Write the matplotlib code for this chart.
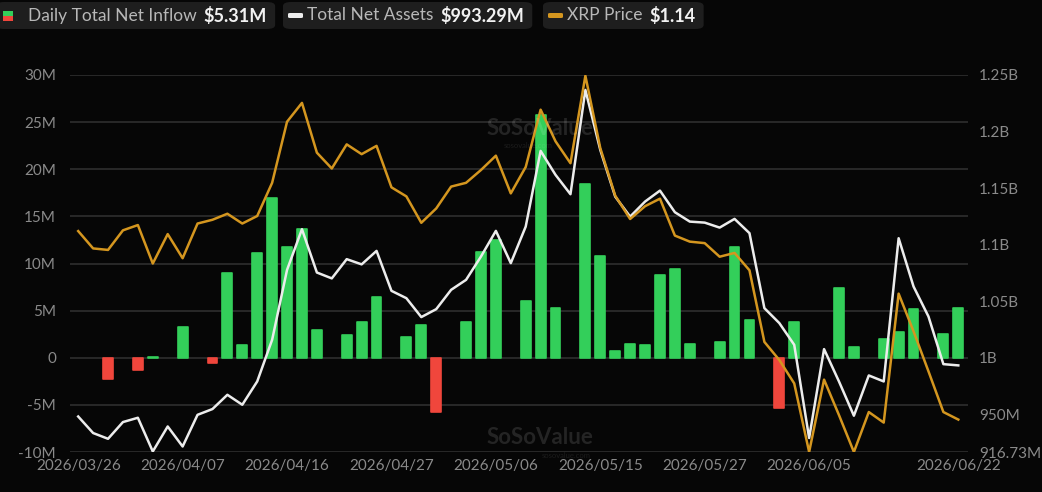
import matplotlib
matplotlib.use("Agg")
import matplotlib.pyplot as plt
from matplotlib.patches import FancyBboxPatch, Rectangle

# ---------------- data ----------------
dates = ["2026/03/26", "2026/03/27", "2026/03/30", "2026/03/31", "2026/04/01", "2026/04/02",
         "2026/04/06", "2026/04/07", "2026/04/08", "2026/04/09", "2026/04/10", "2026/04/13",
         "2026/04/14", "2026/04/15", "2026/04/16", "2026/04/17", "2026/04/20", "2026/04/21",
         "2026/04/22", "2026/04/23", "2026/04/24", "2026/04/27", "2026/04/28", "2026/04/29",
         "2026/04/30", "2026/05/01", "2026/05/04", "2026/05/05", "2026/05/06", "2026/05/07",
         "2026/05/08", "2026/05/11", "2026/05/12", "2026/05/13", "2026/05/14", "2026/05/15",
         "2026/05/18", "2026/05/19", "2026/05/20", "2026/05/21", "2026/05/22", "2026/05/26",
         "2026/05/27", "2026/05/28", "2026/05/29", "2026/06/01", "2026/06/02", "2026/06/03",
         "2026/06/04", "2026/06/05", "2026/06/08", "2026/06/09", "2026/06/10", "2026/06/11",
         "2026/06/12", "2026/06/15", "2026/06/16", "2026/06/17", "2026/06/18", "2026/06/22"]

# Daily total net inflow (million USD)
inflow_m = [0, 0, -2.3, 0, -1.35, 0.05, 0, 3.25, 0, -0.6,
            9.0, 1.4, 11.1, 17.0, 11.8, 13.7, 2.9, 0, 2.4, 3.75,
            6.4, 0, 2.2, 3.5, -5.75, 0, 3.75, 11.2, 12.5, 0,
            6.0, 25.8, 5.3, 0, 18.4, 10.8, 0.67, 1.45, 1.4, 8.8,
            9.4, 1.5, 0, 1.7, 11.8, 4.05, 0, -5.3, 3.8, 0,
            0, 7.4, 1.1, 0, 1.95, 2.7, 5.2, 0, 2.5, 5.31]

# Total net assets (million USD)
net_assets_m = [948.1, 933.5, 928.4, 943.2, 947.0, 917.2, 939.3, 921.6, 949.6, 954.7,
                967.3, 958.5, 979.1, 1015.9, 1077.7, 1113.7, 1075.4, 1070.2, 1087.2, 1082.6,
                1094.5, 1059.2, 1052.7, 1036.0, 1043.0, 1060.1, 1068.9, 1089.5, 1112.2, 1083.7,
                1116.0, 1182.9, 1161.7, 1144.6, 1236.8, 1183.7, 1142.5, 1124.8, 1138.1, 1147.8,
                1128.7, 1120.4, 1119.5, 1115.1, 1122.8, 1110.2, 1043.9, 1030.7, 1011.5, 929.1,
                1007.7, 979.1, 948.8, 984.4, 979.1, 1105.7, 1063.0, 1036.5, 994.4, 993.29]

# XRP price (USD)
xrp_price = [1.393, 1.370, 1.368, 1.394, 1.401, 1.350, 1.389, 1.357, 1.403, 1.408,
             1.416, 1.403, 1.413, 1.457, 1.538, 1.563, 1.497, 1.476, 1.508, 1.495,
             1.506, 1.451, 1.439, 1.404, 1.423, 1.452, 1.457, 1.474, 1.493, 1.443,
             1.478, 1.554, 1.512, 1.483, 1.599, 1.503, 1.440, 1.409, 1.426, 1.436,
             1.387, 1.379, 1.377, 1.359, 1.364, 1.341, 1.246, 1.222, 1.191, 1.100,
             1.196, 1.149, 1.100, 1.153, 1.139, 1.310, 1.260, 1.207, 1.153, 1.143]

x_tick_dates = ["2026/03/26", "2026/04/07", "2026/04/16", "2026/04/27", "2026/05/06",
                "2026/05/15", "2026/05/27", "2026/06/05", "2026/06/22"]
left_ticks = [-10, -5, 0, 5, 10, 15, 20, 25, 30]
left_tick_labels = ["-10M", "-5M", "0", "5M", "10M", "15M", "20M", "25M", "30M"]
right_ticks = [916.73, 950, 1000, 1050, 1100, 1150, 1200, 1250]
right_tick_labels = ["916.73M", "950M", "1B", "1.05B", "1.1B", "1.15B", "1.2B", "1.25B"]

legend_labels = ["Daily Total Net Inflow", "Total Net Assets", "XRP Price"]
legend_values = ["$5.31M", "$993.29M", "$1.14"]

# ---------------- style ----------------
BG = "#060606"
GRID = "#2e2e2e"
TICK = "#8a8a8a"
GREEN = "#33cf5a"
RED = "#f0463c"
ORANGE = "#d4961f"
WHITE = "#ececec"
BOX = "#1e1e1e"
FONT = "Lato"

W, H = 1042, 492
fig = plt.figure(figsize=(W / 100, H / 100), dpi=100, facecolor=BG)
ax = fig.add_axes([70 / W, (H - 452) / H, (968 - 70) / W, (452 - 75) / H])
ax.set_facecolor(BG)

xs = list(range(len(dates)))
colors = [GREEN if v >= 0 else RED for v in inflow_m]
widths = [1.2 if v != 0 else 0.0 for v in inflow_m]
ax.bar(xs, inflow_m, width=0.66, color=colors, edgecolor=colors, linewidth=widths,
       joinstyle="round", zorder=2)
ax.set_ylim(-10, 30)
ax.set_xlim(-0.55, len(dates) - 1 + 0.65)
ax.set_yticks(left_ticks)
ax.set_yticklabels(left_tick_labels)
ax.grid(axis="y", color=GRID, linewidth=1.2, zorder=0)
ax.set_axisbelow(True)
for s in ax.spines.values():
    s.set_visible(False)
tick_pos = [dates.index(d) for d in x_tick_dates]
ax.set_xticks(tick_pos)
ax.set_xticklabels(x_tick_dates)
ax.tick_params(axis="x", length=0, pad=5, labelsize=11, labelcolor=TICK)
ax.tick_params(axis="y", length=0, pad=10, labelsize=11, labelcolor=TICK)
for lab in ax.get_xticklabels() + ax.get_yticklabels():
    lab.set_fontfamily(FONT)

ax2 = ax.twinx()
ax2.plot(xs, net_assets_m, color=WHITE, linewidth=1.8, zorder=3)
ax2.set_ylim(916.73, 1250)
ax2.set_yticks(right_ticks)
ax2.set_yticklabels(right_tick_labels)
ax2.tick_params(axis="y", length=0, pad=8, labelsize=11, labelcolor=TICK)
for lab in ax2.get_yticklabels():
    lab.set_fontfamily(FONT)
for s in ax2.spines.values():
    s.set_visible(False)

ax3 = ax.twinx()
ax3.plot(xs, xrp_price, color=ORANGE, linewidth=1.8, zorder=4)
ax3.set_ylim(1.10, 1.60)
ax3.axis("off")

# watermarks
for (wx, wy, sx, sy) in [(540, 128, 528, 146), (540, 437, 566, 455)]:
    fig.text(wx / W, 1 - wy / H, "SoSoValue", fontsize=16, fontweight="bold",
             color="#ffffff", alpha=0.12, ha="center", va="center", family=FONT)
    fig.text(sx / W, 1 - sy / H, "sosovalue.com", fontsize=5.5,
             color="#ffffff", alpha=0.09, ha="center", va="center", family=FONT)

# ---------------- legend boxes ----------------
fig.canvas.draw()
renderer = fig.canvas.get_renderer()

def px(xp, yp):
    return xp / W, 1 - yp / H

box_lefts = [-4, 283, 543]
label_offsets = [32, 24, 24]
cy = 15.5
for i, (lab, val) in enumerate(zip(legend_labels, legend_values)):
    left = box_lefts[i]
    t1 = fig.text(*px(left + label_offsets[i], cy), lab, fontsize=12.5,
                  color="#b8b8b8", ha="left", va="center", family=FONT)
    bb1 = t1.get_window_extent(renderer)
    t2 = fig.text(bb1.x1 / W + 7 / W, 1 - cy / H, val, fontsize=13, fontweight="bold",
                  color="#f2f2f2", ha="left", va="center", family=FONT)
    bb2 = t2.get_window_extent(renderer)
    right = bb2.x1 + 8
    box = FancyBboxPatch((left / W, 1 - 29 / H), (right - left) / W, 27 / H,
                         boxstyle="round,pad=0,rounding_size=0.008",
                         transform=fig.transFigure, facecolor=BOX, edgecolor="none",
                         zorder=0)
    fig.patches.append(box)
    if i == 0:
        fig.patches.append(Rectangle((3 / W, 1 - 16 / H), 10 / W, 5 / H,
                                     transform=fig.transFigure, facecolor=GREEN,
                                     edgecolor="none"))
        fig.patches.append(Rectangle((3 / W, 1 - 20.5 / H), 10 / W, 4.5 / H,
                                     transform=fig.transFigure, facecolor=RED,
                                     edgecolor="none"))
    else:
        c = WHITE if i == 1 else ORANGE
        fig.patches.append(FancyBboxPatch(((left + 5) / W, 1 - 18 / H), 15 / W, 5 / H,
                                          boxstyle="round,pad=0,rounding_size=0.002",
                                          transform=fig.transFigure, facecolor=c,
                                          edgecolor="none"))

fig.savefig("out.png", dpi=100, facecolor=BG)
